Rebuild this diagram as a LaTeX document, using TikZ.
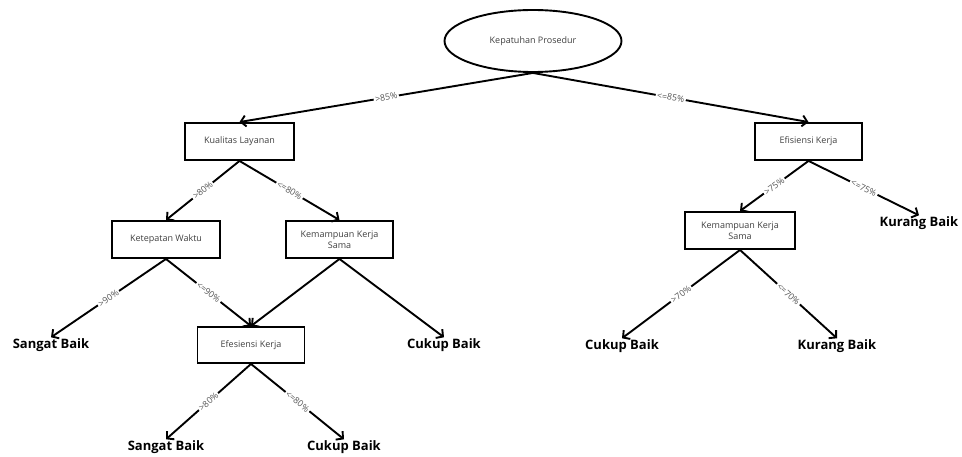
\documentclass[tikz,border=0pt]{standalone}
\usepackage{fontspec}
\setmainfont{Open Sans}
\usetikzlibrary{shapes.geometric}
\usetikzlibrary{arrows.meta}
\definecolor{labelgray}{HTML}{555555}

\begin{document}
\begin{tikzpicture}[x=1pt,y=-1pt,
		decision/.style={draw,line width=1.9pt,minimum height=37pt,inner sep=2pt,align=center,font=\fontsize{9}{11.5}\selectfont,text=black!75},
		root/.style={draw,ellipse,line width=1.9pt,minimum width=177pt,minimum height=62pt,inner sep=0pt,font=\fontsize{9}{11}\selectfont,text=black!75},
		leaf/.style={inner sep=1pt,font=\fontsize{13}{15}\selectfont\bfseries},
		branch/.style={line width=1.9pt,-{Straight Barb[length=5pt,width=11pt]}},
		cond/.style={midway,sloped,fill=white,inner sep=1.5pt,font=\fontsize{8.8}{10}\selectfont,text=labelgray}]
		\useasboundingbox (0,0) rectangle (962,457);
		% splitting attributes
		\node[root] (prosedur) at (533,41) {Kepatuhan Prosedur};
		\node[decision,minimum width=109pt] (layanan) at (239.5,141.5) {Kualitas Layanan};
		\node[decision,minimum width=107pt] (efisiensi) at (808.5,141.5) {Efisiensi Kerja};
		\node[decision,minimum width=108pt] (waktu) at (166,239.5) {Ketepatan Waktu};
		\node[decision,minimum width=107pt] (kerjasamaL) at (339.5,239.5) {Kemampuan Kerja\\Sama};
		\node[decision,minimum width=110pt] (kerjasamaR) at (740,230.5) {Kemampuan Kerja\\Sama};
		\node[decision,minimum width=107pt,minimum height=36pt] (efesiensi) at (251,345) {Efesiensi Kerja};
		% class labels
		\node[leaf] (sangatA) at (51,345) {Sangat Baik};
		\node[leaf] (cukupA) at (444,345) {Cukup Baik};
		\node[leaf] (sangatB) at (166,447) {Sangat Baik};
		\node[leaf] (cukupB) at (344,447) {Cukup Baik};
		\node[leaf] (cukupC) at (622,346) {Cukup Baik};
		\node[leaf] (kurangA) at (837,346) {Kurang Baik};
		\node[leaf] (kurangB) at (919,223) {Kurang Baik};
		% branches
		\draw[branch] (prosedur.south) -- node[cond] {>85\%} (layanan.north);
		\draw[branch] (prosedur.south) -- node[cond] {<=85\%} (efisiensi.north);
		\draw[branch] (layanan.south) -- node[cond] {>80\%} (waktu.north);
		\draw[branch] (layanan.south) -- node[cond] {<=80\%} (kerjasamaL.north);
		\draw[branch] (waktu.south) -- node[cond] {>90\%} (sangatA.north);
		\draw[branch] (waktu.south) -- node[cond] {<=90\%} (efesiensi.north);
		\draw[branch] (kerjasamaL.south) -- (efesiensi.north);
		\draw[branch] (kerjasamaL.south) -- (cukupA.north);
		\draw[branch] (efesiensi.south) -- node[cond] {>80\%} (sangatB.north);
		\draw[branch] (efesiensi.south) -- node[cond] {<=80\%} (cukupB.north);
		\draw[branch] (efisiensi.south) -- node[cond] {>75\%} (kerjasamaR.north);
		\draw[branch] (efisiensi.south) -- node[cond] {<=75\%} (kurangB.north);
		\draw[branch] (kerjasamaR.south) -- node[cond] {>70\%} (cukupC.north);
		\draw[branch] (kerjasamaR.south) -- node[cond] {<=70\%} (kurangA.north);
\end{tikzpicture}
\end{document}
